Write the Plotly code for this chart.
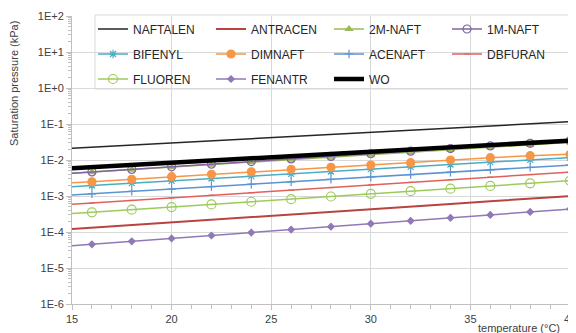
import plotly.graph_objects as go

temps = [15, 16, 18, 20, 22, 24, 26, 28, 30, 32, 34, 36, 38, 40]

naftalen = [0.0211, 0.0226, 0.0259, 0.0297, 0.0340, 0.0389, 0.0447, 0.0512, 0.0586, 0.0671, 0.0769, 0.0883, 0.101, 0.116]
antracen = [0.000121, 0.000132, 0.000156, 0.000185, 0.000219, 0.000259, 0.000307, 0.000363, 0.000430, 0.000509, 0.000603, 0.000714, 0.000845, 0.00100]
m2_naft = [0.00427, 0.00462, 0.00541, 0.00634, 0.00743, 0.00871, 0.0102, 0.0119, 0.0140, 0.0164, 0.0192, 0.0225, 0.0264, 0.0309]
m1_naft = [0.00428, 0.00465, 0.00548, 0.00648, 0.00766, 0.00905, 0.0107, 0.0126, 0.0149, 0.0176, 0.0208, 0.0246, 0.0291, 0.0344]
bifenyl = [0.00182, 0.00195, 0.00227, 0.00264, 0.00306, 0.00356, 0.00413, 0.00480, 0.00556, 0.00646, 0.00750, 0.00871, 0.0101, 0.0117]
dimnaft = [0.00232, 0.00249, 0.00291, 0.00344, 0.00401, 0.00468, 0.00552, 0.00627, 0.00726, 0.00841, 0.0100, 0.0116, 0.0132, 0.0144]
acenaft = [0.00107, 0.00115, 0.00134, 0.00156, 0.00182, 0.00213, 0.00248, 0.00289, 0.00337, 0.00393, 0.00458, 0.00534, 0.00623, 0.00726]
dbfuran = [0.000587, 0.000638, 0.000753, 0.000889, 0.00105, 0.00124, 0.00146, 0.00172, 0.00203, 0.00239, 0.00283, 0.00333, 0.00394, 0.00464]
fluoren = [0.000324, 0.000352, 0.000417, 0.000493, 0.000583, 0.000692, 0.000818, 0.000968, 0.00115, 0.00136, 0.00160, 0.00190, 0.00225, 0.00266]
fenantr = [4.14e-5, 4.55e-5, 5.50e-5, 6.64e-5, 8.00e-5, 9.66e-5, 1.17e-4, 1.41e-4, 1.70e-4, 2.05e-4, 2.48e-4, 2.99e-4, 3.61e-4, 4.36e-4]
wo = [0.00587, 0.00631, 0.00726, 0.00836, 0.00964, 0.0111, 0.0128, 0.0147, 0.0169, 0.0195, 0.0225, 0.0259, 0.0298, 0.0344]

y_tick_vals = [1e2, 1e1, 1e0, 1e-1, 1e-2, 1e-3, 1e-4, 1e-5, 1e-6]
y_tick_text = ["1E+2", "1E+1", "1E+0", "1E-1", "1E-2", "1E-3", "1E-4", "1E-5", "1E-6"]
x_tick_vals = [15, 20, 25, 30, 35, 40]

# name, values, color, width, marker symbol, marker size
series = [
    ("NAFTALEN", naftalen, "#262626", 1.5, None, 0),
    ("ANTRACEN", antracen, "#b8433f", 2.0, None, 0),
    ("2M-NAFT", m2_naft, "#9bbb59", 1.5, "triangle-up", 6),
    ("1M-NAFT", m1_naft, "#8064a2", 1.5, "circle-open", 8),
    ("BIFENYL", bifenyl, "#4bacc6", 1.5, "asterisk-open", 7),
    ("DIMNAFT", dimnaft, "#f79646", 1.5, "circle", 8),
    ("ACENAFT", acenaft, "#5b93d3", 1.5, "cross-thin-open", 6),
    ("DBFURAN", dbfuran, "#e0605c", 1.5, "line-ew-open", 4),
    ("FLUOREN", fluoren, "#9ccb5c", 1.5, "circle-open", 9),
    ("FENANTR", fenantr, "#9079b6", 1.5, "diamond", 5),
    ("WO", wo, "#000000", 4.5, None, 0),
]

# page has an 8px body margin; figure is sized/shifted to compensate
OFF = 8
W, H = 576 - OFF, 333 - OFF
PL, PR, PT, PB = 72, 570, 16, 304          # plot area in page pixels
L, T = PL - OFF, PT - OFF
pw, ph = PR - PL, PB - PT
R, B = W - L - pw, H - T - ph

def px_x(p):
    return (p - PL) / pw

def px_y(p):
    return (PB - p) / ph

font_family = "Liberation Sans, Arial, sans-serif"
col_px = [93, 211, 329, 447]
row_px = [29, 54, 79]

fig = go.Figure()
legend_layouts = {}
for i, (name, vals, color, width, sym, size) in enumerate(series):
    leg = "legend" if i == 0 else f"legend{i + 1}"
    legend_layouts[leg] = dict(
        x=px_x(col_px[i % 4]), y=px_y(row_px[i // 4]), xanchor="left", yanchor="middle",
        bgcolor="rgba(0,0,0,0)", borderwidth=0,
        font=dict(size=12, color="#262626", family=font_family),
    )
    if sym is None:
        fig.add_trace(go.Scatter(x=temps, y=vals, mode="lines", name=name,
                                 line=dict(color=color, width=width), legend=leg,
                                 showlegend=True))
    else:
        fig.add_trace(go.Scatter(x=temps[:2], y=vals[:2], mode="lines", showlegend=False,
                                 line=dict(color=color, width=width), hoverinfo="skip"))
        fig.add_trace(go.Scatter(x=temps[1:], y=vals[1:], mode="lines+markers", name=name,
                                 line=dict(color=color, width=width), legend=leg,
                                 showlegend=True, cliponaxis=False,
                                 marker=dict(symbol=sym, size=size, color=color,
                                             line=dict(color=color, width=1.2))))

minor_vals = [m * 10 ** e for e in range(-6, 2) for m in range(2, 10)]

fig.update_layout(
    width=W, height=H,
    margin=dict(l=L, r=R, t=T, b=B, autoexpand=False),
    plot_bgcolor="white", paper_bgcolor="white",
    font=dict(family=font_family, color="#595959"),
    xaxis=dict(range=[15, 40], tickmode="array", tickvals=x_tick_vals,
               showgrid=True, gridcolor="#d9d9d9", gridwidth=1,
               showline=True, linecolor="#bfbfbf", linewidth=1,
               ticks="outside", ticklen=5, tickcolor="#bfbfbf",
               ticklabeloverflow="allow",
               tickfont=dict(size=11, color="#404040"),
               minor=dict(dtick=1, ticks="outside", ticklen=4, tickcolor="#bfbfbf", showgrid=False),
               zeroline=False),
    yaxis=dict(type="log", range=[-6, 2], tickmode="array", tickvals=y_tick_vals,
               ticktext=y_tick_text,
               showgrid=True, gridcolor="#d9d9d9", gridwidth=1,
               showline=True, linecolor="#bfbfbf", linewidth=1,
               ticks="outside", ticklen=5, tickcolor="#bfbfbf",
               tickfont=dict(size=11, color="#404040"),
               minor=dict(tickmode="array", tickvals=minor_vals, ticks="outside",
                          ticklen=3, tickcolor="#bfbfbf", showgrid=False),
               zeroline=False),
    shapes=[dict(type="rect", xref="paper", yref="paper",
                 x0=px_x(95), x1=px_x(572), y0=px_y(89), y1=px_y(15),
                 line=dict(color="#d9d9d9", width=1), fillcolor="rgba(0,0,0,0)")],
    annotations=[
        dict(text="Saturation pressure (kPa)", textangle=-90, xref="paper", yref="paper",
             x=px_x(14), y=px_y(84), xanchor="center", yanchor="middle", showarrow=False,
             font=dict(size=11, color="#404040")),
        dict(text="temperature (°C)", xref="paper", yref="paper",
             x=px_x(519), y=px_y(328), xanchor="center", yanchor="middle", showarrow=False,
             font=dict(size=11, color="#404040")),
    ],
    **legend_layouts,
)

fig.write_html("out.html")
